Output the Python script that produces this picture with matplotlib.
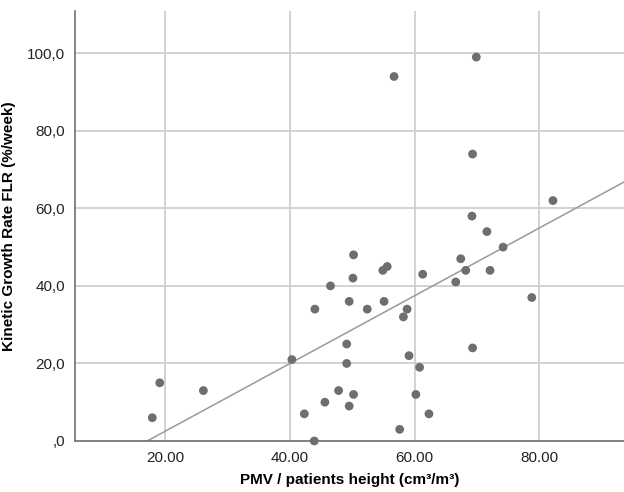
import matplotlib
matplotlib.use('Agg')
import matplotlib.pyplot as plt
import numpy as np

# PMV / patients height vs kinetic growth rate
pmv = [17.9, 19.1, 26.1, 40.3, 42.3, 43.9, 44.0, 50.2, 46.5, 50.1, 49.5,
       52.4, 54.9, 55.6, 55.1, 58.8, 58.2, 61.3, 66.6, 67.4, 68.2, 72.1,
       74.2, 78.8, 69.3, 49.1, 49.1, 59.1, 60.8, 47.8, 50.2, 45.6, 49.5,
       60.2, 62.3, 57.6, 56.7, 69.9, 69.3, 69.2, 71.6, 82.2]
kgr = [6, 15, 13, 21, 7, 0, 34, 48, 40, 42, 36,
       34, 44, 45, 36, 34, 32, 43, 41, 47, 44, 44,
       50, 37, 24, 25, 20, 22, 19, 13, 12, 10, 9,
       12, 7, 3, 94, 99, 74, 58, 54, 62]

xticks = [20, 40, 60, 80]
xtick_labels = ['20.00', '40.00', '60.00', '80.00']
yticks = [0, 20, 40, 60, 80, 100]
ytick_labels = [',0', '20,0', '40,0', '60,0', '80,0', '100,0']

plt.rcParams['font.family'] = ['Liberation Sans', 'DejaVu Sans']

fig = plt.figure(figsize=(6.24, 4.92), dpi=100)
ax = fig.add_axes([0.1202, 0.1037, 0.8798, 0.874])

xlim = (5.5, 93.6)
ax.set_xlim(*xlim)
ax.set_ylim(0, 110.9)

ax.grid(True, color='#cfcfcf', linewidth=1.3)
ax.set_axisbelow(True)

# linear fit line across the whole axis
slope, icpt = np.polyfit(pmv, kgr, 1)
xx = np.array(xlim)
ax.plot(xx, slope * xx + icpt, color='#9a9a9a', linewidth=1.1, zorder=2)

ax.scatter(pmv, kgr, s=40, color='#6e6e6e', edgecolors='none', zorder=3,
           clip_on=False)

for s in ['top', 'right']:
    ax.spines[s].set_visible(False)
ax.spines['left'].set_color('#707070')
ax.spines['bottom'].set_color('#707070')
ax.spines['left'].set_linewidth(1.2)
ax.spines['bottom'].set_linewidth(1.2)

ax.set_xticks(xticks)
ax.set_xticklabels(xtick_labels)
ax.set_yticks(yticks)
ax.set_yticklabels(ytick_labels)
ax.tick_params(length=0, labelsize=11, colors='#222222')
ax.tick_params(axis='x', pad=7)
ax.tick_params(axis='y', pad=7)

ax.set_xlabel('PMV / patients height (cm³/m³)', fontsize=11, fontweight='bold',
              labelpad=6)
ax.set_ylabel('Kinetic Growth Rate FLR (%/week)', fontsize=11,
              fontweight='bold', labelpad=8)

fig.savefig('out.png', dpi=100)
